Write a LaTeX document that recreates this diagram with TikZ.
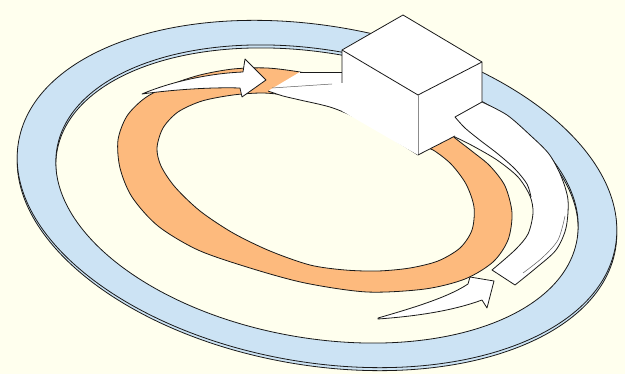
\documentclass[tikz,border=0pt]{standalone}
\definecolor{cream}{RGB}{255,255,238}
\definecolor{ringblue}{RGB}{204,227,244}
\definecolor{bandorange}{RGB}{253,186,125}
\definecolor{ink}{RGB}{25,25,25}
\begin{document}
\begin{tikzpicture}[x=1pt,y=-1pt,
  outline/.style={draw=ink, line width=0.8pt, line join=round},
  thinline/.style={draw=ink!70, line width=0.5pt},
  grayedge/.style={draw=black!45, line width=0.7pt}]
\fill[cream] (0,0) rectangle (625,374);
\useasboundingbox (0,0) rectangle (625,374);

% blue ring: lower slab (thickness) and upper surface
\begin{scope}[shift={(317,197)}, rotate=-10]
  \path[fill=ringblue, even odd rule, outline]
    (0,0) ellipse [x radius=303pt, y radius=168pt]
    (0,0) ellipse [x radius=264pt, y radius=144pt];
\end{scope}
\begin{scope}[shift={(317,194)}, rotate=-10]
  \path[fill=ringblue, even odd rule, outline]
    (0,0) ellipse [x radius=303pt, y radius=168pt]
    (0,0) ellipse [x radius=264pt, y radius=144pt];
\end{scope}

% orange band
\path[fill=bandorange, even odd rule, outline]
  plot[smooth cycle, tension=0.5] coordinates {(300,72) (267,68) (233,69) (200,75)
    (170,85) (145,98) (127,116) (118,140) (120,168) (132,197) (158,226)
    (198,250) (250,268) (305,283) (367,292) (425,289) (465,279) (493,262)
    (508,240) (512,213) (505,186) (490,166) (473,152) (455,138) (440,125)
    (400,105) (360,89) (322,77)}
  plot[smooth cycle, tension=0.5] coordinates {(433,150) (451,164) (466,184)
    (474,207) (472,230) (460,248) (438,261) (410,268) (378,271) (345,270)
    (310,265) (270,251) (233,233) (200,211) (175,187) (161,166) (157,148)
    (163,128) (178,112) (202,101) (233,95) (262,93) (285,95) (305,98)
    (335,106) (367,119) (400,136) (420,146)};

% upper arrow
\path[fill=white, outline] (142,94) .. controls (175,80) and (215,73) .. (243,72)
  -- (245,59) -- (266,80) -- (242,97) -- (240,88)
  .. controls (210,87) and (170,90) .. (142,94) -- cycle;

% band from the upper arrow into the block
\fill[white] (268,91) -- (300,72) -- (342,72) -- (418,100) -- (418,155)
  -- plot[smooth] coordinates {(418,155) (393,139) (367,123) (333,108) (300,100) (283,96) (268,91)}
  -- cycle;
\draw[outline] plot[smooth] coordinates {(418,155) (393,139) (367,123) (333,108) (300,100) (283,96) (268,91)};
\draw[outline] (300,72) -- (342,72);
\draw[thinline] (272,88) -- (332,84);

% ribbon leaving the block on the right
\fill[white] plot[smooth] coordinates {(455,137) (473,146) (497,160) (518,177)
    (530,196) (533,213) (528,234) (515,250) (492,270)}
  -- (515,285)
  -- plot[smooth] coordinates {(515,285) (536,268) (556,250) (566,228) (568,200)
    (561,176) (549,154) (530,135) (507,115) (482,102)}
  -- (482,90) -- (450,120) -- cycle;
\draw[outline] plot[smooth] coordinates {(455,137) (473,146) (497,160) (518,177)
    (530,196) (533,213) (528,234) (515,250) (492,270)}
  -- (515,285)
  -- plot[smooth] coordinates {(515,285) (536,268) (556,250) (566,228) (568,200)
    (561,176) (549,154) (530,135) (507,115) (482,102)};
\draw[thinline] plot[smooth] coordinates {(565,216) (558,240) (542,258) (523,273)};

% lower arrow
\path[fill=white, outline] (378,318) .. controls (420,306) and (450,296) .. (468,284)
  -- (470,277) -- (494,281) -- (487,308) -- (482,300)
  .. controls (455,310) and (420,316) .. (378,319) -- cycle;

% block
\coordinate (T) at (403,15);
\coordinate (L) at (342,50);
\coordinate (F) at (418,95);
\coordinate (R) at (482,62);
\coordinate (FB) at (418,155);
\coordinate (RB) at (482,122);
\coordinate (LB) at (342,111);
\fill[white] (T) -- (L) -- (LB) -- (FB) -- (RB) -- (R) -- cycle;
\draw[outline] (342,83) -- (L) -- (T) -- (R) -- (482,102);
\draw[outline] (L) -- (F) -- (R);
\draw[grayedge] (F) -- (FB);
\draw[outline] (FB) -- (455,136);
\draw[outline] (482,102) -- (455,117)
  -- plot[smooth] coordinates {(455,117) (465,128) (481,141) (498,154) (515,169) (527,184) (531,197)};
\end{tikzpicture}
\end{document}
